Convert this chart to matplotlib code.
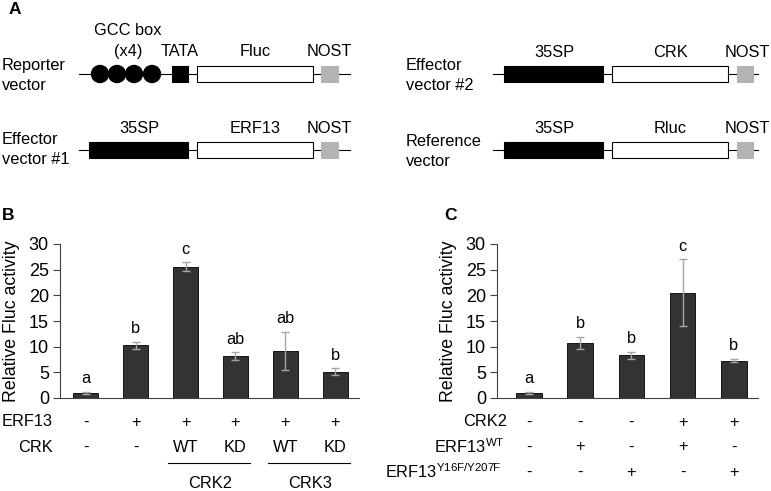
import matplotlib
matplotlib.use("Agg")
import matplotlib.pyplot as plt
from matplotlib.patches import Rectangle, Circle
from matplotlib.transforms import blended_transform_factory

plt.rcParams['font.family'] = ['Liberation Sans', 'DejaVu Sans']
plt.rcParams['mathtext.fontset'] = 'custom'
plt.rcParams['mathtext.rm'] = 'Liberation Sans'
plt.rcParams['mathtext.it'] = 'Liberation Sans'

W, H = 771, 491
FS = 11.8

# panel B data
b_vals = [1.0, 10.3, 25.6, 8.2, 9.2, 5.1]
b_err = [0.15, 0.7, 0.8, 0.7, 3.7, 0.7]
b_letters = ['a', 'b', 'c', 'ab', 'ab', 'b']
b_erf13 = ['-', '+', '+', '+', '+', '+']
b_crk = ['-', '-', 'WT', 'KD', 'WT', 'KD']

# panel C data
c_vals = [1.0, 10.7, 8.3, 20.5, 7.3]
c_err = [0.15, 1.2, 0.7, 6.5, 0.3]
c_letters = ['a', 'b', 'b', 'c', 'b']
c_crk2 = ['-', '-', '-', '+', '+']
c_erf_wt = ['-', '+', '-', '+', '-']
c_erf_mut = ['-', '-', '+', '-', '+']

fig = plt.figure(figsize=(W / 100, H / 100), dpi=100)


def fy(y):
    return 1 - y / H


# ---------- panel A: vector diagrams drawn in pixel space ----------
da = fig.add_axes([0, 0, 1, 1])
da.set_xlim(0, W)
da.set_ylim(H, 0)
da.axis('off')


def box(x0, x1, yc, color, h=16):
    da.add_patch(Rectangle((x0, yc - h / 2), x1 - x0, h, facecolor=color,
                           edgecolor='black' if color != '#b3b3b3' else '#b3b3b3', lw=0.8, zorder=3))


def construct(x0, yc, parts, line_end):
    da.plot([x0, line_end], [yc, yc], color='black', lw=0.8, zorder=1)
    for p in parts:
        box(*p[:2], yc, p[2])


da.text(9, 9, 'A', fontsize=12.5, fontweight='bold', va='center')

# reporter
construct(79, 74, [(172, 188, 'black'), (197, 313, 'white'), (321, 338, '#b3b3b3')], 350)
for cx in [100, 117, 134, 152]:
    da.add_patch(Circle((cx, 74), 8.5, color='black', zorder=3))
da.text(128, 30, 'GCC box', fontsize=FS, ha='center', va='center')
da.text(128, 51, '(x4)', fontsize=FS, ha='center', va='center')
da.text(180, 51, 'TATA', fontsize=FS, ha='center', va='center')
da.text(255, 51, 'Fluc', fontsize=FS, ha='center', va='center')
da.text(329, 51, 'NOST', fontsize=FS, ha='center', va='center')
da.text(2, 65, 'Reporter', fontsize=FS, va='center')
da.text(2, 85, 'vector', fontsize=FS, va='center')

# effector 1
construct(79, 150, [(89, 188, 'black'), (197, 313, 'white'), (321, 338, '#b3b3b3')], 350)
da.text(139, 128, '35SP', fontsize=FS, ha='center', va='center')
da.text(255, 128, 'ERF13', fontsize=FS, ha='center', va='center')
da.text(329, 128, 'NOST', fontsize=FS, ha='center', va='center')
da.text(2, 139, 'Effector', fontsize=FS, va='center')
da.text(2, 159, 'vector #1', fontsize=FS, va='center')

# effector 2 / reference
for yc, name, l1, l2 in [(74, 'CRK', 'Effector', 'vector #2'), (150, 'Rluc', 'Reference', 'vector')]:
    construct(493, yc, [(504, 603, 'black'), (612, 728, 'white'), (737, 753, '#b3b3b3')], 758)
    da.text(554, yc - 22, '35SP', fontsize=FS, ha='center', va='center')
    da.text(670, yc - 22, name, fontsize=FS, ha='center', va='center')
    da.text(747, yc - 22, 'NOST', fontsize=FS, ha='center', va='center')
    da.text(406, yc - 9, l1, fontsize=FS, va='center')
    da.text(406, yc + 11, l2, fontsize=FS, va='center')


# ---------- bar panels ----------
def bar_panel(left, right, xmin, xmax, vals, errs, letters):
    ax = fig.add_axes([left / W, fy(398), (right - left) / W, (398 - 244) / H])
    x = list(range(len(vals)))
    ax.bar(x, vals, width=0.5, color='#333333', edgecolor='black', lw=0.6, zorder=2)
    ax.errorbar(x, vals, yerr=errs, fmt='none', ecolor='#a6a6a6', elinewidth=1,
                capsize=3, capthick=1, zorder=3)
    for xi, v, e, t in zip(x, vals, errs, letters):
        ax.text(xi, v + e + 1.1, t, ha='center', va='bottom', fontsize=FS)
    ax.set_xlim(xmin, xmax)
    ax.set_ylim(0, 30)
    ax.set_yticks(range(0, 31, 5))
    ax.set_xticks([])
    ax.spines['top'].set_visible(False)
    ax.spines['right'].set_visible(False)
    for s in ['left', 'bottom']:
        ax.spines[s].set_color('#404040')
        ax.spines[s].set_linewidth(0.8)
    ax.tick_params(axis='y', labelsize=13, length=5, color='#404040', pad=3)
    ax.set_ylabel('Relative Fluc activity', fontsize=12.8, labelpad=6)
    return ax


axb = bar_panel(60, 359, -0.52, 5.48, b_vals, b_err, b_letters)
axc = bar_panel(497, 758, -0.62, 4.47, c_vals, c_err, c_letters)

fig.text(2 / W, fy(216), 'B', fontsize=12.5, fontweight='bold', va='center')
fig.text(444 / W, fy(216), 'C', fontsize=12.5, fontweight='bold', va='center')

# table rows under B
tb = blended_transform_factory(axb.transData, fig.transFigure)
for row, yy, name in [(b_erf13, 422, 'ERF13'), (b_crk, 447, 'CRK')]:
    fig.text(53 / W, fy(yy), name, fontsize=FS, ha='right', va='center')
    for i, t in enumerate(row):
        axb.text(i, fy(yy), t, transform=tb, fontsize=FS, ha='center', va='center')
for i0, name in [(2, 'CRK2'), (4, 'CRK3')]:
    axb.plot([i0 - 0.35, i0 + 1.3], [fy(463), fy(463)], transform=tb, color='black',
             lw=0.8, clip_on=False)
    axb.text(i0 + 0.5, fy(483), name, transform=tb, fontsize=FS, ha='center', va='center')

# table rows under C
tc = blended_transform_factory(axc.transData, fig.transFigure)
rows_c = [(c_crk2, 422, 'CRK2', 507),
          (c_erf_wt, 447, r'ERF13$^{\mathrm{WT}}$', 505),
          (c_erf_mut, 472, r'ERF13$^{\mathrm{Y16F/Y207F}}$', 501)]
for row, yy, name, xr in rows_c:
    fig.text(xr / W, fy(yy), name, fontsize=FS, ha='right', va='center')
    for i, t in enumerate(row):
        axc.text(i, fy(yy), t, transform=tc, fontsize=FS, ha='center', va='center')

fig.savefig('out.png', dpi=100)
